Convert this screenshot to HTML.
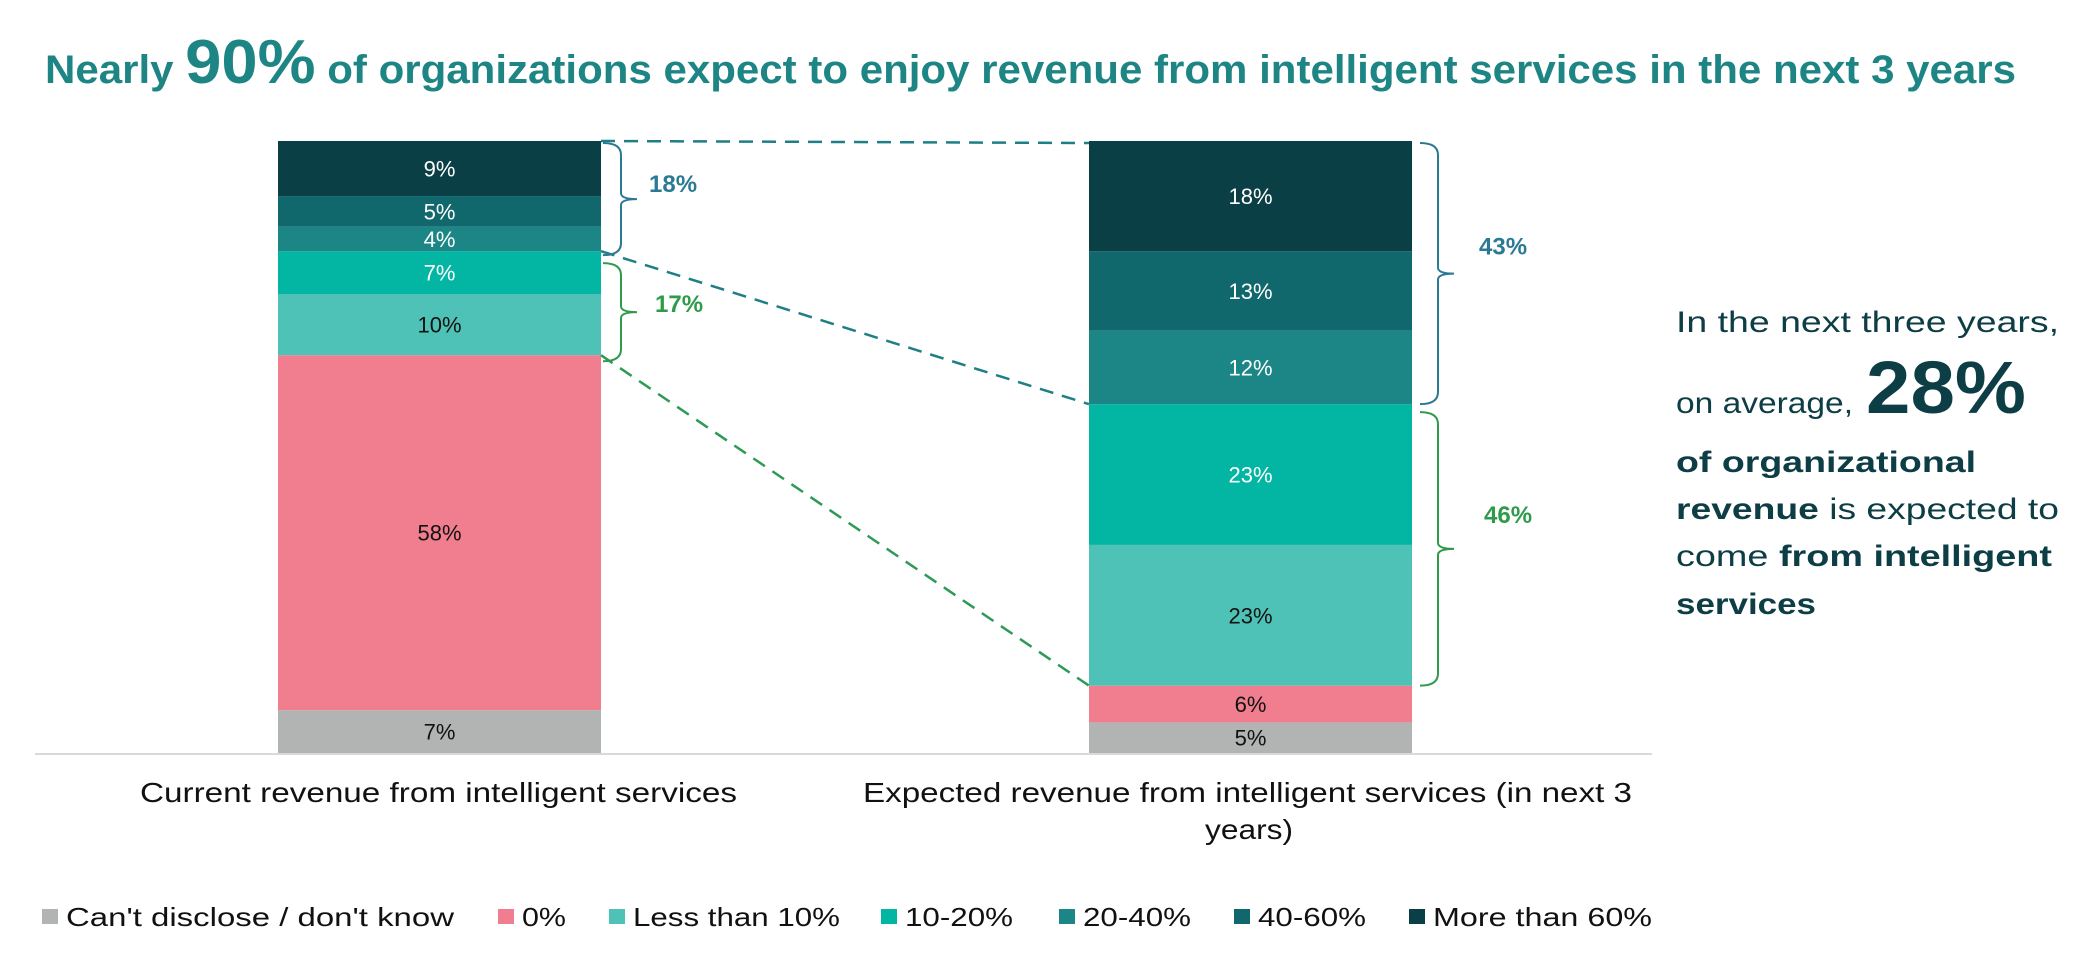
<!DOCTYPE html>
<html><head><meta charset="utf-8">
<style>
html,body{margin:0;padding:0;background:#fff;}
svg{display:block;}
text{font-family:"Liberation Sans",sans-serif;}
</style></head>
<body>
<svg id="chart" width="2098" height="978" viewBox="0 0 2098 978" xmlns="http://www.w3.org/2000/svg">
  <text x="45" y="83" fill="#1e8585" font-weight="bold" font-size="40" textLength="1971" lengthAdjust="spacingAndGlyphs">Nearly <tspan font-size="62">90%</tspan> of organizations expect to enjoy revenue from intelligent services in the next 3 years</text>
  <line x1="35" y1="754" x2="1652" y2="754" stroke="#d9d9d9" stroke-width="2"/>
  <g id="bars"></g>
  <g id="annot"></g>
  <g fill="#0d3d45" font-size="30">
    <text x="1676" y="332" textLength="383" lengthAdjust="spacingAndGlyphs">In the next three years,</text>
    <text x="1676" y="413" textLength="177" lengthAdjust="spacingAndGlyphs">on average,</text>
    <text x="1866" y="413" font-weight="bold" font-size="74" textLength="160" lengthAdjust="spacingAndGlyphs">28%</text>
    <text x="1676" y="472" font-weight="bold" textLength="300" lengthAdjust="spacingAndGlyphs">of organizational</text>
    <text x="1676" y="519" textLength="383" lengthAdjust="spacingAndGlyphs"><tspan font-weight="bold">revenue</tspan> is expected to</text>
    <text x="1676" y="566" textLength="376" lengthAdjust="spacingAndGlyphs">come <tspan font-weight="bold">from intelligent</tspan></text>
    <text x="1676" y="614" font-weight="bold" textLength="140" lengthAdjust="spacingAndGlyphs">services</text>
  </g>
  <g fill="#111" font-size="28">
    <text x="140" y="802" textLength="597" lengthAdjust="spacingAndGlyphs">Current revenue from intelligent services</text>
    <text x="863" y="802" textLength="769" lengthAdjust="spacingAndGlyphs">Expected revenue from intelligent services (in next 3</text>
    <text x="1249" y="839" text-anchor="middle" textLength="88" lengthAdjust="spacingAndGlyphs">years)</text>
  </g>
  <g id="legend"></g>
</svg>
<script>
const categories = ["Current revenue from intelligent services", "Expected revenue from intelligent services (in next 3 years)"];
const seriesNames = ["Can't disclose / don't know", "0%", "Less than 10%", "10-20%", "20-40%", "40-60%", "More than 60%"];
const currentValues = [7, 58, 10, 7, 4, 5, 9];
const expectedValues = [5, 6, 23, 23, 12, 13, 18];
const groupLabelsCurrent = ["17%", "18%"];
const groupLabelsExpected = ["46%", "43%"];

const colors = ["#b2b4b4", "#f07e8f", "#4fc2b7", "#02b6a3", "#1b8685", "#10676c", "#0b3f46"];
const textColors = ["#111", "#111", "#111", "#fff", "#fff", "#fff", "#fff"];
const NS = "http://www.w3.org/2000/svg";
const baseY = 753, topY = 141, fullH = baseY - topY;
const y = v => baseY - v / 100 * fullH;
const barX = [278, 1089], barW = 323;

function el(tag, attrs, parent) {
  const e = document.createElementNS(NS, tag);
  for (const k in attrs) e.setAttribute(k, attrs[k]);
  parent.appendChild(e);
  return e;
}
const bars = document.getElementById('bars');
const annot = document.getElementById('annot');
const allVals = [currentValues, expectedValues];
const cums = [];
allVals.forEach((vals, b) => {
  let c = 0; const cum = [0];
  vals.forEach((v, i) => {
    const y0 = y(c), y1 = y(c + v);
    const r = el('rect', {x: barX[b], y: y1, width: barW, height: y0 - y1, fill: colors[i]}, bars);
    
    
    const t = el('text', {x: barX[b] + barW / 2, y: (y0 + y1) / 2 + 8, 'text-anchor': 'middle', 'font-size': 22, fill: textColors[i]}, bars);
    
    
    t.textContent = v + '%';
    c += v; cum.push(c);
  });
  cums.push(cum);
});
const xr = barX[0] + barW, xl = barX[1];
function dash(y1, y2, col) {
  const l = el('line', {x1: xr, y1: y1, x2: xl, y2: y2, stroke: col, 'stroke-width': 2.5, 'stroke-dasharray': '14 9'}, annot);
  
  
}
dash(y(cums[0][7]), y(cums[1][7]) + 2, "#1e7f86");
dash(y(cums[0][4]), y(cums[1][4]), "#1e7f86");
dash(y(cums[0][2]), y(cums[1][2]), "#2e9a55");
function bracket(x, yA, yB, col, label, lx, lxOff) {
  const ym = (yA + yB) / 2, w = 18;
  const p = el('path', {d: `M${x} ${yA+2} Q${x+w} ${yA+2} ${x+w} ${yA+14} L${x+w} ${ym-6} Q${x+w} ${ym} ${x+w+16} ${ym} M${x+w} ${ym+6} Q${x+w} ${ym} ${x+w+16} ${ym} M${x+w} ${ym+6} L${x+w} ${yB-14} Q${x+w} ${yB-2} ${x} ${yB-2}`, fill: 'none', stroke: col, 'stroke-width': 2}, annot);
  
  
  const t = el('text', {x: lx, y: ym + lxOff, 'font-size': 24, 'font-weight': 'bold', fill: col}, annot);
  
  
  t.textContent = label;
}
bracket(603, y(cums[0][7]), y(cums[0][4]) + 6, "#2a7a96", groupLabelsCurrent[1], 649, -7);
bracket(603, y(cums[0][4]) + 10, y(cums[0][2]) + 8, "#2e9a4a", groupLabelsCurrent[0], 655, 0);
bracket(1420, y(cums[1][7]), y(cums[1][4]) + 2, "#2a7a96", groupLabelsExpected[1], 1479, -19);
bracket(1420, y(cums[1][4]) + 6, y(cums[1][2]) + 2, "#2e9a4a", groupLabelsExpected[0], 1484, -26);
const lg = document.getElementById('legend');
const legX = [42, 498, 609, 881, 1059, 1234, 1409];
const legW = [388, 44, 207, 108, 108, 108, 219];
seriesNames.forEach((n, i) => {
  const g = el('g', {}, lg);
  
  
  el('rect', {x: legX[i], y: 909, width: 16, height: 15, fill: colors[i]}, g);
  const t = el('text', {x: legX[i] + 24, y: 926, 'font-size': 26, fill: '#111', textLength: legW[i], lengthAdjust: 'spacingAndGlyphs'}, g);
  t.textContent = n;
});
</script>
</body></html>
